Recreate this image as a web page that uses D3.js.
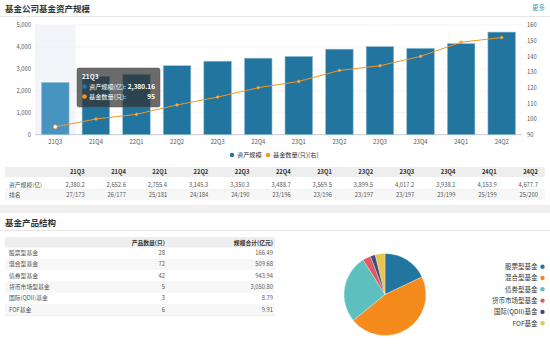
<!DOCTYPE html>
<html>
<head>
<meta charset="utf-8">
<script src="https://cdn.jsdelivr.net/npm/d3@7"></script>
<style>
  html, body { margin: 0; padding: 0; background: #fff; }
  svg text { font-family: "Noto Sans CJK SC", "Noto Sans", sans-serif; }
</style>
</head>
<body>
<svg id="chart" width="550" height="352"></svg>
<script>
// ---- data ----
const quarters = ["21Q3","21Q4","22Q1","22Q2","22Q3","22Q4","23Q1","23Q2","23Q3","23Q4","24Q1","24Q2"];
const assetScale = [2380.2, 2652.6, 2755.4, 3145.3, 3350.3, 3488.7, 3569.5, 3899.5, 4017.2, 3938.1, 4153.9, 4677.7];
const fundCount = [95, 100, 103, 109, 114, 120, 124, 131, 134, 140, 149, 152];
const ranking = ["27/173","26/177","25/181","24/184","24/190","23/196","23/196","23/197","23/197","23/199","25/199","25/200"];
const leftTicks = [0, 1000, 2000, 3000, 4000, 5000];
const rightTicks = [90, 100, 110, 120, 130, 140, 150, 160];

const productTypes = ["股票型基金","混合型基金","债券型基金","货币市场型基金","国际(QDII)基金","FOF基金"];
const productCount = [28, 72, 42, 5, 3, 6];
const productScale = [166.49, 509.68, 943.94, 3050.80, 8.79, 9.91];
const pieColors = ["#21759f","#f58a1d","#5ebfbf","#e05a5e","#3d4b88","#e9c451"];

const svg = d3.select("#chart");
const fmt1 = d3.format(",.1f"), fmt2 = d3.format(",.2f"), fmt0 = d3.format(",");

// ---- section 1: title ----
svg.append("text").attr("x", 5).attr("y", 11.5).text("基金公司基金资产规模")
  .attr("font-size", 8.5).attr("font-weight", "bold").attr("fill", "#333");
svg.append("text").attr("x", 545).attr("y", 10).attr("text-anchor", "end").text("更多")
  .attr("font-size", 6.5).attr("fill", "#3aa0b8");
svg.append("line").attr("x1", 0).attr("x2", 550).attr("y1", 16.5).attr("y2", 16.5)
  .attr("stroke", "#e6e6e6");

// ---- bar + line chart ----
const x = d3.scaleBand().domain(quarters).range([35, 522]).paddingInner(0.32).paddingOuter(0.16);
const yL = d3.scaleLinear().domain([0, 5000]).range([134.7, 25]);
const yR = d3.scaleLinear().domain([90, 160]).range([134.7, 25]);
const step = x.step();

// hover shadow
svg.append("rect").attr("x", x("21Q3") - step * 0.16).attr("y", 25)
  .attr("width", step).attr("height", 134.7 - 25).attr("fill", "#f3f5fa");

// grid
svg.append("g").selectAll("line").data(leftTicks).join("line")
  .attr("x1", 35).attr("x2", 522).attr("y1", d => yL(d)).attr("y2", d => yL(d))
  .attr("stroke", d => d === 0 ? "#bbb" : "#f0f0f0").attr("stroke-width", 0.8);

const axL = svg.append("g").attr("transform", "translate(35,0)")
  .call(d3.axisLeft(yL).tickValues(leftTicks).tickFormat(fmt0).tickSize(0).tickPadding(4));
axL.select(".domain").remove();
axL.selectAll("text").attr("font-size", 5.8).attr("fill", "#555");

const axR = svg.append("g").attr("transform", "translate(522,0)")
  .call(d3.axisRight(yR).tickValues(rightTicks).tickSize(0).tickPadding(5));
axR.select(".domain").remove();
axR.selectAll("text").attr("font-size", 5.8).attr("fill", "#555");

const axB = svg.append("g").attr("transform", "translate(0,134.7)")
  .call(d3.axisBottom(x).tickSize(0).tickPadding(5));
axB.select(".domain").remove();
axB.selectAll("text").attr("font-size", 5.8).attr("fill", "#555");

// bars
svg.append("g").selectAll("rect").data(quarters).join("rect")
  .attr("x", d => x(d)).attr("width", x.bandwidth())
  .attr("y", (d, i) => yL(assetScale[i]))
  .attr("height", (d, i) => yL(0) - yL(assetScale[i]))
  .attr("fill", (d, i) => i === 0 ? "#4894c1" : "#21759f")
  .attr("stroke", "#9cc2d8").attr("stroke-width", 0.6);

// line
const line = d3.line().x((d, i) => x(quarters[i]) + x.bandwidth() / 2).y(d => yR(d));
svg.append("path").datum(fundCount).attr("d", line)
  .attr("fill", "none").attr("stroke", "#f5961f").attr("stroke-width", 1);
svg.append("g").selectAll("circle").data(fundCount).join("circle")
  .attr("cx", (d, i) => x(quarters[i]) + x.bandwidth() / 2).attr("cy", d => yR(d))
  .attr("r", (d, i) => i === 0 ? 2 : 1.3)
  .attr("fill", (d, i) => i === 0 ? "#fff" : "#f7b060")
  .attr("stroke", "#f5961f").attr("stroke-width", 0.7);

// legend
const legend1 = [{ name: "资产规模", color: "#21759f", x: 232 }, { name: "基金数量(只)(右)", color: "#f5961f", x: 268 }];
legend1.forEach(l => {
  svg.append("circle").attr("cx", l.x).attr("cy", 155).attr("r", 2.2).attr("fill", l.color);
  svg.append("text").attr("x", l.x + 5).attr("y", 157.3).text(l.name)
    .attr("font-size", 6.2).attr("fill", "#333");
});

// tooltip
const tip = svg.append("g").attr("transform", "translate(77,68)");
tip.append("rect").attr("width", 83).attr("height", 39).attr("rx", 2)
  .attr("fill", "rgba(50,50,50,0.72)").attr("stroke", "#555").attr("stroke-width", 0.5);
tip.append("text").attr("x", 5).attr("y", 10.5).text(quarters[0])
  .attr("font-size", 6.5).attr("font-weight", "bold").attr("fill", "#fff");
[[ "资产规模(亿):", "2,380.16", "#21759f"], ["基金数量(只):", String(fundCount[0]), "#f5961f"]].forEach((r, i) => {
  const yy = 20.5 + i * 10;
  tip.append("circle").attr("cx", 7.5).attr("cy", yy - 2).attr("r", 2.3).attr("fill", r[2]);
  tip.append("text").attr("x", 12).attr("y", yy).text(r[0]).attr("font-size", 6.2).attr("fill", "#fff");
  tip.append("text").attr("x", 78).attr("y", yy).attr("text-anchor", "end").text(r[1])
    .attr("font-size", 6.5).attr("font-weight", "bold").attr("fill", "#fff");
});

// ---- table 1 ----
const t1Left = 5, t1LabelW = 42.5, colW = 41.2;
svg.append("rect").attr("x", 5).attr("y", 167).attr("width", 540).attr("height", 10).attr("fill", "#eeeeee");
svg.append("rect").attr("x", 5).attr("y", 189.5).attr("width", 540).attr("height", 10.5).attr("fill", "#f7f7f7");
svg.append("line").attr("x1", 5).attr("x2", 545).attr("y1", 189.5).attr("y2", 189.5).attr("stroke", "#e6e6e6").attr("stroke-width", 0.5);
quarters.forEach((q, i) => {
  const xr = t1Left + t1LabelW + colW * (i + 1) - 4;
  svg.append("text").attr("x", xr).attr("y", 174).attr("text-anchor", "end").text(q)
    .attr("font-size", 5.8).attr("font-weight", "bold").attr("fill", "#333");
  svg.append("text").attr("x", xr).attr("y", 186.5).attr("text-anchor", "end").text(fmt1(assetScale[i]))
    .attr("font-size", 5.8).attr("fill", "#555");
  svg.append("text").attr("x", xr).attr("y", 197).attr("text-anchor", "end").text(ranking[i])
    .attr("font-size", 5.8).attr("fill", "#555");
});
svg.append("text").attr("x", 9).attr("y", 186.5).text("资产规模(亿)").attr("font-size", 5.8).attr("fill", "#555");
svg.append("text").attr("x", 9).attr("y", 197).text("排名").attr("font-size", 5.8).attr("fill", "#555");

// section separator
svg.append("rect").attr("x", 0).attr("y", 205).attr("width", 550).attr("height", 8).attr("fill", "#f0f0f0");

// ---- section 2 ----
svg.append("text").attr("x", 5).attr("y", 225.5).text("基金产品结构")
  .attr("font-size", 8.5).attr("font-weight", "bold").attr("fill", "#333");
svg.append("line").attr("x1", 0).attr("x2", 550).attr("y1", 230.5).attr("y2", 230.5).attr("stroke", "#e6e6e6");

svg.append("rect").attr("x", 5).attr("y", 237).attr("width", 270).attr("height", 10.5).attr("fill", "#eeeeee");
svg.append("text").attr("x", 165).attr("y", 244.5).attr("text-anchor", "end").text("产品数量(只)")
  .attr("font-size", 5.8).attr("font-weight", "bold").attr("fill", "#333");
svg.append("text").attr("x", 273).attr("y", 244.5).attr("text-anchor", "end").text("规模合计(亿元)")
  .attr("font-size", 5.8).attr("font-weight", "bold").attr("fill", "#333");
productTypes.forEach((p, i) => {
  const y0 = 247.5 + i * 11.3;
  if (i % 2 === 1) svg.append("rect").attr("x", 5).attr("y", y0).attr("width", 270).attr("height", 11.3).attr("fill", "#f7f7f7");
  svg.append("text").attr("x", 9).attr("y", y0 + 7.5).text(p).attr("font-size", 5.8).attr("fill", "#555");
  svg.append("text").attr("x", 165).attr("y", y0 + 7.5).attr("text-anchor", "end").text(productCount[i])
    .attr("font-size", 5.8).attr("fill", "#555");
  svg.append("text").attr("x", 273).attr("y", y0 + 7.5).attr("text-anchor", "end").text(fmt2(productScale[i]))
    .attr("font-size", 5.8).attr("fill", "#555");
});
svg.append("line").attr("x1", 5).attr("x2", 275).attr("y1", 315.5).attr("y2", 315.5).attr("stroke", "#e6e6e6").attr("stroke-width", 0.6);

// pie
const pie = d3.pie().sort(null).value(d => d)(productCount);
const arc = d3.arc().innerRadius(0).outerRadius(41);
svg.append("g").attr("transform", "translate(385,294.5)").selectAll("path").data(pie).join("path")
  .attr("d", arc).attr("fill", (d, i) => pieColors[i]).attr("stroke", "#fff").attr("stroke-width", 0.3);

// pie legend
productTypes.forEach((p, i) => {
  const yy = 266.7 + i * 11.3;
  svg.append("circle").attr("cx", 542.5).attr("cy", yy).attr("r", 2.2).attr("fill", pieColors[i]);
  svg.append("text").attr("x", 537.5).attr("y", yy + 2.3).attr("text-anchor", "end").text(p)
    .attr("font-size", 6.5).attr("fill", "#333");
});
</script>
</body>
</html>
